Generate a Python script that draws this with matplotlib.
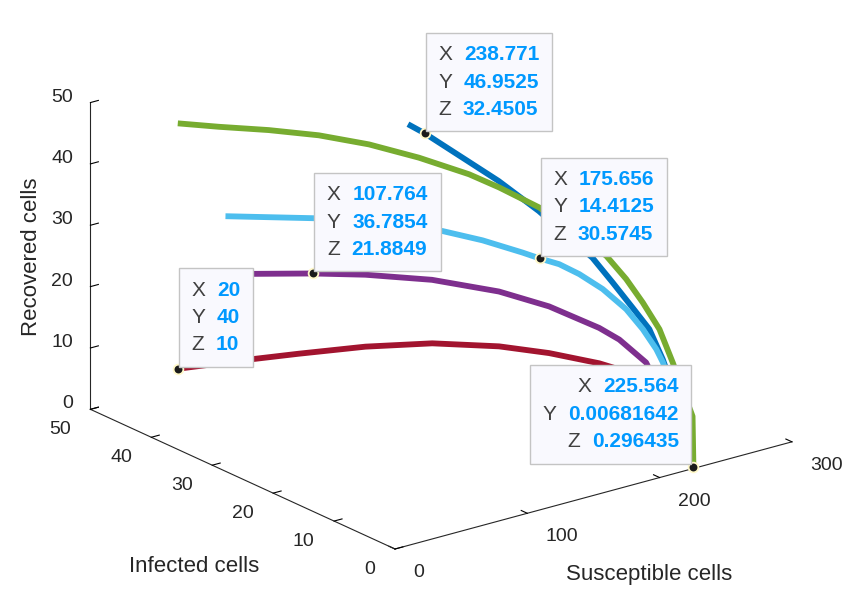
import numpy as np
import matplotlib
matplotlib.use("Agg")
import matplotlib.pyplot as plt
from matplotlib.offsetbox import AnnotationBbox, TextArea, HPacker, VPacker
from mpl_toolkits.mplot3d import proj3d

W, H = 848, 596

# trajectories: (susceptible, infected, recovered)
red_s = [20, 59.9, 84.2, 119.5, 151.5, 177.6, 193.8, 209.6, 222.9, 224.5, 225.564]
red_i = [40, 36.2, 34.1, 30.8, 26.8, 21.5, 16.8, 12.0, 8.3, 3, 0.00681642]
red_r = [10, 11, 11.4, 12, 12.5, 12.9, 13, 12.6, 11.5, 6, 0.296435]

purple_s = [40, 71.8, 107.764, 135.5, 167.0, 191.8, 205.3, 215.1, 218.3, 220.6, 224.5, 225.564]
purple_i = [40, 38.8, 36.7854, 34.3, 30.2, 24.6, 19.3, 13.2, 10.6, 6.7, 2.5, 0.00681642]
purple_r = [24, 23, 21.8849, 21.2, 20.4, 19.6, 18.8, 17.5, 16.6, 14.5, 6, 0.296435]

ltblue_s = [10, 60.5, 128.4, 146.7, 164.5, 175.656, 185.8, 192.7, 197.9, 202.8, 205.9, 210.6, 214.0, 222, 225.564]
ltblue_i = [30, 26.1, 20.1, 17.5, 14.8, 14.4125, 13.4, 11.6, 8.9, 6.1, 4.05, 2.85, 2.5, 0.6, 0.00681642]
ltblue_r = [40, 38.5, 35.2, 33.8, 32, 30.5745, 29.5, 28.3, 26.8, 24.5, 22, 19, 16.8, 7, 0.296435]

blue_s = [240, 238.771, 233.9, 232.5, 229.3, 227.4, 224.2, 223.3, 221.7, 222.2, 224.8, 225.564]
blue_i = [50, 46.9525, 39.3, 33.5, 26.2, 17.0, 13.0, 9.5, 6.4, 4.3, 1.2, 0.00681642]
blue_r = [32.5, 32.4505, 32, 31.2, 29.8, 26.5, 24.5, 22, 20, 16, 7, 0.296435]

green_s = [20, 40.4, 67.1, 92.5, 115.2, 134.1, 152.2, 161.1, 173.4, 194.6, 202.3, 208.0, 216.9, 220.5, 225.1, 225.564]
green_i = [40, 37.7, 35.3, 32.6, 29.3, 25.2, 20.9, 17.9, 14.0, 7.6, 6.0, 4.5, 3.7, 2.3, 0.05, 0.00681642]
green_r = [50, 49.3, 48.3, 47.2, 45.9, 44.5, 42.7, 41.4, 39.2, 33, 29.5, 26, 21.5, 16.5, 8.5, 0.296435]

x_ticks = [0, 100, 200, 300]
y_ticks = [0, 10, 20, 30, 40, 50]
z_ticks = [0, 10, 20, 30, 40, 50]

# data tips: point and side of the box
tips = [
    ((20, 40, 10), "left"),
    ((107.764, 36.7854, 21.8849), "left"),
    ((238.771, 46.9525, 32.4505), "left"),
    ((175.656, 14.4125, 30.5745), "left"),
    ((225.564, 0.00681642, 0.296435), "right"),
]

plt.rcParams['font.family'] = ['Liberation Sans', 'DejaVu Sans']
ink = '#262626'

fig = plt.figure(figsize=(W / 100, H / 100), dpi=100)
ax = fig.add_axes([0.2, 0.1, 500 / W, 500 / H], projection='3d')
ax.set_proj_type('ortho')
ax.view_init(elev=20.6, azim=-127.5)
ax.set_box_aspect((1, 1, 0.655))
ax.computed_zorder = False

style = dict(lw=4.2, solid_capstyle='butt', solid_joinstyle='round')
ax.plot(red_s, red_i, red_r, color='#A2142F', zorder=1, **style)
ax.plot(purple_s, purple_i, purple_r, color='#7E2F8E', zorder=2, **style)
ax.plot(blue_s, blue_i, blue_r, color='#0072BD', zorder=3, **style)
ax.plot(ltblue_s, ltblue_i, ltblue_r, color='#4DBEEE', zorder=4, **style)
ax.plot(green_s, green_i, green_r, color='#77AC30', zorder=5, **style)

ax.set_xlim(0, 300)
ax.set_ylim(0, 50)
ax.set_zlim(0, 50)
ax.set_xticks(x_ticks)
ax.set_yticks(y_ticks)
ax.set_zticks(z_ticks)
ax.xaxis.set_ticklabels([])
ax.yaxis.set_ticklabels([])
ax.zaxis.set_ticklabels([])
ax.grid(False)
for axis in (ax.xaxis, ax.yaxis, ax.zaxis):
    axis.pane.fill = False
    axis.pane.set_edgecolor('none')
    axis.line.set_color(ink)
    axis.line.set_linewidth(0.8)
    axis._axinfo['tick']['inward_factor'] = 0.0
    axis._axinfo['tick']['outward_factor'] = 0.25
    axis._axinfo['tick']['color'] = ink
    axis._axinfo['tick']['linewidth'] = {True: 0.8, False: 0.5}


def proj2d(x, y, z):
    px, py, _ = proj3d.proj_transform(x, y, z, ax.get_proj())
    return px, py


def to_px(x, y, z):
    return ax.transData.transform(proj2d(x, y, z))


# fit the box so the x axis runs where it does in the picture
fig.canvas.draw()
p0 = to_px(0, 0, 0)
p1 = to_px(300, 0, 0)
t0 = np.array([395, H - 549])
t1 = np.array([792, H - 442])
k = np.linalg.norm(t1 - t0) / np.linalg.norm(p1 - p0)
bb = ax.bbox
c = np.array([(bb.x0 + bb.x1) / 2, (bb.y0 + bb.y1) / 2])
side = k * bb.width
c1 = t0 - k * (p0 - c)
ax.set_position([(c1[0] - side / 2) / W, (c1[1] - side / 2) / H, side / W, side / H])
fig.canvas.draw()

# tick labels and axis titles, MATLAB style
tick_font = dict(fontsize=14, color=ink, textcoords='offset points', annotation_clip=False)
for v in x_ticks:
    ax.annotate(str(v), proj2d(v, 0, 0), xytext=(13, -17), ha='left', va='center', **tick_font)
for v in y_ticks:
    ax.annotate(str(v), proj2d(0, v, 0), xytext=(-14, -14.5), ha='right', va='center', **tick_font)
for v in z_ticks:
    ax.annotate(str(v), proj2d(0, 50, v), xytext=(-12.6, 4), ha='right', va='center', **tick_font)

label_font = dict(fontsize=16, color=ink, textcoords='offset points', annotation_clip=False,
                  ha='center', va='center')
ax.annotate('Susceptible cells', proj2d(150, 0, 0), xytext=(40.2, -57.3), **label_font)
ax.annotate('Infected cells', proj2d(0, 25, 0), xytext=(-34.9, -62.6), **label_font)
ax.annotate('Recovered cells', proj2d(0, 50, 25), xytext=(-42.2, -0.5), rotation=90, **label_font)

for (x, y, z), side_ in tips:
    ax.plot([x], [y], [z], 'o', ms=7, mfc='#1a1a1a', mec='#fff8c8', mew=1.3, zorder=10)
    rows = []
    for name, val in zip("XYZ", (x, y, z)):
        lab = TextArea(name, textprops=dict(color='#404040', size=15))
        num = TextArea(f"{val:g}", textprops=dict(color='#0099ff', size=15, weight='bold'))
        rows.append(HPacker(children=[lab, num], sep=8.5, pad=0, align='baseline'))
    box = VPacker(children=rows, sep=6, pad=0, align=side_)
    if side_ == 'left':
        corner, offset = (0, 0), (9.7, 10.5)
    else:
        corner, offset = (1, 0), (-10.4, 11.2)
    ab = AnnotationBbox(box, proj2d(x, y, z), xycoords='data',
                        xybox=offset, boxcoords='offset points', box_alignment=corner,
                        pad=0.9, frameon=True, annotation_clip=False, zorder=20,
                        bboxprops=dict(facecolor='#f9f9fe', edgecolor='#c4c4c4', lw=1))
    ax.add_artist(ab)

fig.savefig('out.png', dpi=100)
